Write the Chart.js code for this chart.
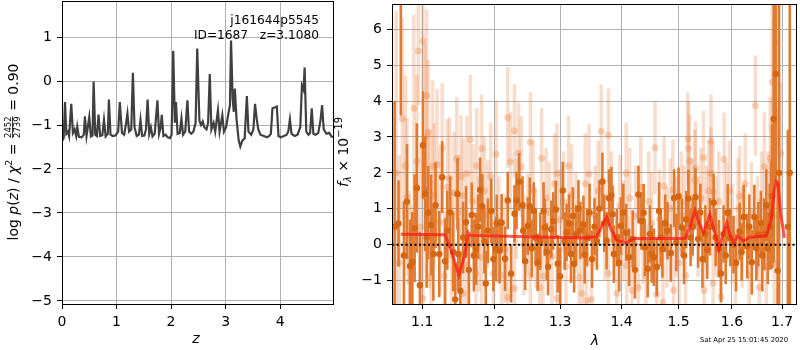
<!DOCTYPE html>
<html>
<head>
<meta charset="utf-8">
<script src="https://cdn.jsdelivr.net/npm/chart.js"></script>
<style>
html, body { margin: 0; padding: 0; background: #fff; }
#wrap { position: relative; width: 800px; height: 350px; overflow: hidden; }
.box { position: absolute; top: 0; height: 350px; }
#pzBox { left: 0; width: 340px; }
#specBox { left: 330px; width: 470px; }
</style>
</head>
<body>
<div id="wrap">
  <div class="box" id="pzBox"><canvas id="pzChart"></canvas></div>
  <div class="box" id="specBox"><canvas id="specChart"></canvas></div>
</div>
<script>
// ---- text ----
const objName = 'j161644p5545';
const idLine = 'ID=1687   z=3.1080';
const chi2Num = '2452';
const chi2Den = '2739';
const chi2Val = '0.90';
const stamp = 'Sat Apr 25 15:01:45 2020';

// ---- left panel: log p(z) ----
const pzXTicks = [0, 1, 2, 3, 4];
const pzYTicks = [-5, -4, -3, -2, -1, 0, 1];
const zGrid = [0.00, 0.03, 0.055, 0.08, 0.11, 0.13, 0.17, 0.20, 0.23, 0.26, 0.28, 0.31, 0.36, 0.40, 0.42, 0.45, 0.50, 0.53, 0.56, 0.58,
  0.61, 0.64, 0.67, 0.70, 0.74, 0.77, 0.80, 0.84, 0.86, 0.89, 0.93, 0.98, 1.03, 1.06, 1.10, 1.14, 1.17, 1.20, 1.23, 1.27,
  1.30, 1.33, 1.37, 1.41, 1.44, 1.47, 1.51, 1.54, 1.57, 1.60, 1.63, 1.66, 1.70, 1.75, 1.78, 1.81, 1.83, 1.86, 1.90, 1.94,
  1.98, 2.01, 2.04, 2.07, 2.09, 2.12, 2.16, 2.19, 2.22, 2.26, 2.30, 2.33, 2.37, 2.41, 2.45, 2.48, 2.52, 2.55, 2.58, 2.61,
  2.65, 2.68, 2.71, 2.74, 2.78, 2.81, 2.86, 2.89, 2.94, 2.97, 3.01, 3.05, 3.08, 3.10, 3.13, 3.15, 3.17, 3.20, 3.24, 3.27,
  3.31, 3.35, 3.39, 3.42, 3.47, 3.51, 3.54, 3.57, 3.60, 3.64, 3.70, 3.76, 3.80, 3.83, 3.86, 3.90, 3.94, 3.97, 4.01, 4.07,
  4.12, 4.15, 4.18, 4.21, 4.27, 4.32, 4.37, 4.40, 4.43, 4.45, 4.48, 4.52, 4.55, 4.58, 4.61, 4.65, 4.70, 4.74, 4.77, 4.80,
  4.85, 4.90, 4.94, 4.97];
const logPz = [-1.36, -1.30, -0.48, -1.20, -1.15, -1.25, -0.52, -1.18, -1.10, -1.25, -1.04, -1.27, -1.28, -1.22, -0.80, -1.25, -0.82, -1.26, -1.24, -0.01,
  -1.22, -1.25, -0.76, -1.25, -1.23, -0.88, -1.26, -1.20, -0.42, -1.22, -1.25, -1.24, -1.15, -0.48, -1.18, -1.22, -1.00, -0.74, -1.15, -1.10,
  0.19, -1.05, -1.25, -1.22, -0.88, -1.25, -1.24, -1.10, -0.42, -1.20, -1.05, -1.26, -1.20, -0.44, -1.20, -1.05, -0.77, -1.25, -1.22, -1.28,
  -1.30, -1.22, 0.69, -0.95, -0.48, -1.20, -1.18, -0.85, -1.22, -1.15, -0.44, -1.15, -1.20, -1.15, -0.95, 0.74, -0.90, -1.00, -0.92, -1.05,
  -1.10, -0.95, 0.16, -1.10, -0.95, -1.15, -0.66, -1.15, -0.78, -1.15, -1.05, -0.75, -0.55, 0.92, -0.40, -0.70, -0.17, -0.85, -1.35, -1.49,
  -1.35, -1.30, -0.34, -1.15, -1.22, -1.10, -0.52, -0.85, -1.10, -1.22, -1.25, -1.28, -1.25, -1.20, -0.62, -0.60, -0.58, -1.25, -1.28, -1.25,
  -1.22, -1.15, -0.87, -1.20, -1.25, -1.22, -1.05, -0.10, -0.20, 0.31, -1.15, -1.22, -1.18, -0.62, -1.20, -1.22, -1.18, -0.90, -0.55, -1.10,
  -1.20, -1.18, -1.26, -1.28];

// ---- right panel: spectrum ----
const specXTicks = [1.1, 1.2, 1.3, 1.4, 1.5, 1.6, 1.7];
const specYTicks = [-1, 0, 1, 2, 3, 4, 5, 6];

// binned points (dark)
const darkLam = [1.064, 1.069, 1.072, 1.076, 1.080, 1.084, 1.087, 1.090, 1.093, 1.097, 1.101, 1.104, 1.106, 1.108, 1.112, 1.115, 1.118, 1.123, 1.127, 1.131,
  1.134, 1.138, 1.142, 1.145, 1.148, 1.149, 1.152, 1.156, 1.160, 1.164, 1.168, 1.171, 1.174, 1.177, 1.180, 1.183, 1.186, 1.188, 1.191, 1.196,
  1.199, 1.203, 1.204, 1.208, 1.211, 1.216, 1.220, 1.225, 1.230, 1.233, 1.237, 1.242, 1.243, 1.246, 1.250, 1.253, 1.256, 1.259, 1.262, 1.265,
  1.269, 1.274, 1.276, 1.279, 1.281, 1.286, 1.289, 1.293, 1.296, 1.300, 1.304, 1.307, 1.310, 1.314, 1.317, 1.320, 1.322, 1.325, 1.329, 1.332,
  1.337, 1.339, 1.343, 1.347, 1.351, 1.355, 1.359, 1.363, 1.368, 1.371, 1.375, 1.379, 1.383, 1.385, 1.387, 1.392, 1.396, 1.399, 1.403, 1.408,
  1.413, 1.419, 1.423, 1.429, 1.434, 1.438, 1.440, 1.445, 1.449, 1.452, 1.456, 1.461, 1.465, 1.468, 1.471, 1.476, 1.480, 1.486, 1.492, 1.496,
  1.500, 1.506, 1.510, 1.514, 1.518, 1.522, 1.526, 1.531, 1.536, 1.540, 1.544, 1.549, 1.553, 1.558, 1.565, 1.569, 1.575, 1.579, 1.584, 1.588,
  1.592, 1.597, 1.603, 1.608, 1.615, 1.619, 1.623, 1.630, 1.634, 1.639, 1.644, 1.648, 1.652, 1.657, 1.660, 1.664, 1.668, 1.671, 1.675, 1.678,
  1.680, 1.683, 1.687, 1.691, 1.694, 1.712, 1.716];
const darkFlux = [0.5, 0.59, 8.0, -0.3, 1.2, -0.6, -0.49, 0.46, 1.58, -1.13, 2.77, 1.42, 0.2, 0.89, 0.55, -0.26, 1.1, -0.26, 1.88, -0.46,
  0.40, 0.9, -0.2, -1.52, 1.41, -0.26, -1.29, 0.2, 0.63, -0.7, 0.83, -0.3, -0.12, 0.5, 1.53, 1.07, 0.1, -1.08, 0.39, 0.94,
  -0.4, -0.12, 0.59, -0.17, 0.61, -0.39, 1.23, -0.81, 0.86, 1.23, 1.75, 1.10, 0.39, -0.46, 0.52, 1.07, -0.1, 0.94, 0.2, -0.49,
  0.1, 0.94, 0.48, -0.2, -0.61, 0.43, 0.66, 0.98, -0.53, -0.88, 1.51, 0.1, 0.34, 0.6, -0.26, 0.8, -0.53, 0.3, 1.0, 0.40,
  0.57, -0.28, 0.2, 0.9, -0.4, 0.5, 0.1, 1.0, 1.76, 0.6, 0.11, 1.3, 1.37, 0.85, -0.26, 0.2, -0.5, 0.52, 0.9, 0.34,
  -0.35, 0.16, -0.7, 1.40, 0.66, 0.89, -0.07, -0.67, 0.3, -0.26, -0.35, -0.62, 0.94, 0.2, -0.12, 0.6, 0.39, -0.23, 1.30, 0.06,
  1.35, 0.48, -0.3, 0.7, 1.29, 0.2, 0.5, 1.33, 0.16, 0.9, -0.4, 0.3, -0.15, 0.5, 1.17, 0.2, -0.11, -0.8, 0.3, -0.3,
  0.89, 0.2, 0.0, -0.5, 0.37, -0.2, 0.77, -0.04, 0.5, -0.49, 0.77, -0.1, 0.29, 0.6, -0.3, 0.29, 1.1, -0.10, 0.5, 0.82,
  1.35, 3.5, 4.75, -0.72, 2.0, 0.5, 2.0];
const darkErr = [3.5, 1.2, 4.4, 1.5, 1.6, 1.3, 1.4, 1.5, 1.8, 1.5, 1.5, 1.6, 1.4, 1.3, 1.4, 1.3, 1.2, 1.2, 1.0, 1.2,
  1.1, 1.0, 1.1, 1.0, 1.0, 1.0, 1.1, 1.0, 1.0, 1.0, 0.9, 1.0, 1.0, 0.9, 0.9, 0.9, 0.9, 0.9, 0.9, 0.9,
  0.9, 0.9, 0.8, 0.9, 0.8, 0.9, 0.8, 0.8, 0.8, 0.8, 0.8, 0.8, 0.8, 0.8, 0.8, 0.8, 0.8, 0.8, 0.8, 0.8,
  0.8, 0.8, 0.8, 0.8, 0.8, 0.8, 0.8, 0.8, 0.8, 0.8, 0.8, 0.8, 0.8, 0.8, 0.8, 0.8, 0.8, 0.8, 0.8, 0.8,
  0.8, 0.8, 0.8, 0.8, 0.8, 0.8, 0.8, 0.8, 0.8, 0.8, 0.8, 0.8, 0.8, 0.8, 0.8, 0.8, 0.8, 0.8, 0.8, 0.8,
  0.8, 0.8, 0.8, 0.8, 0.8, 0.8, 0.8, 0.8, 0.8, 0.8, 0.8, 0.8, 0.8, 0.8, 0.8, 0.8, 0.8, 0.8, 0.8, 0.8,
  0.8, 0.8, 0.8, 0.8, 0.8, 0.8, 0.8, 0.8, 0.8, 0.8, 0.8, 0.8, 0.8, 0.8, 0.8, 0.8, 0.8, 0.8, 0.8, 0.8,
  0.8, 0.8, 0.8, 0.8, 0.8, 0.8, 0.9, 0.9, 0.9, 0.9, 0.9, 0.9, 0.9, 0.9, 1.0, 1.0, 1.0, 1.0, 1.2, 1.5,
  2.0, 4.0, 3.0, 2.5, 6.0, 2.7, 10.0];

// individual exposures (light)
const lightLam = [1.066, 1.070, 1.074, 1.078, 1.080, 1.083, 1.086, 1.089, 1.093, 1.095, 1.098, 1.101, 1.101, 1.104, 1.106, 1.108, 1.110, 1.112, 1.114, 1.116,
  1.120, 1.124, 1.127, 1.130, 1.134, 1.137, 1.140, 1.143, 1.147, 1.150, 1.153, 1.156, 1.156, 1.161, 1.161, 1.166, 1.170, 1.174, 1.175, 1.178,
  1.182, 1.182, 1.186, 1.191, 1.195, 1.199, 1.203, 1.207, 1.211, 1.216, 1.220, 1.220, 1.224, 1.230, 1.230, 1.233, 1.236, 1.240, 1.244, 1.250,
  1.254, 1.254, 1.258, 1.262, 1.268, 1.271, 1.273, 1.278, 1.283, 1.287, 1.291, 1.295, 1.295, 1.300, 1.305, 1.309, 1.313, 1.318, 1.325, 1.330,
  1.335, 1.340, 1.342, 1.346, 1.350, 1.356, 1.361, 1.366, 1.372, 1.378, 1.378, 1.383, 1.392, 1.397, 1.403, 1.408, 1.409, 1.414, 1.418, 1.424,
  1.429, 1.433, 1.437, 1.442, 1.447, 1.452, 1.458, 1.461, 1.466, 1.472, 1.474, 1.479, 1.485, 1.490, 1.491, 1.496, 1.501, 1.505, 1.510, 1.513,
  1.517, 1.518, 1.520, 1.525, 1.530, 1.531, 1.536, 1.541, 1.546, 1.547, 1.552, 1.556, 1.560, 1.560, 1.564, 1.564, 1.570, 1.575, 1.579, 1.585,
  1.590, 1.596, 1.601, 1.607, 1.612, 1.615, 1.620, 1.626, 1.634, 1.638, 1.646, 1.650, 1.654, 1.659, 1.664, 1.668, 1.672, 1.676, 1.678, 1.680,
  1.683, 1.684, 1.688, 1.692, 1.697];
const lightFlux = [2.0, -0.5, 3.5, 2.20, 1.33, -1.0, -0.87, 3.8, 2.33, 5.39, 0.5, 5.67, -1.50, 3.0, 4.15, 3.14, 0.99, -0.90, 2.18, 1.38,
  2.23, 0.62, 2.7, -0.87, 1.6, 1.85, -0.3, 1.45, 2.4, 0.9, 1.9, 1.36, -1.36, 1.98, -0.56, 2.93, 1.2, -0.8, 2.2, 0.3,
  2.68, -0.35, 1.5, 0.85, 1.9, -0.8, 2.52, 0.4, -0.86, -0.12, 3.54, -1.47, 2.31, 3.17, -1.22, 1.0, 2.55, 2.17, 0.0, 0.57,
  2.85, -0.87, 1.5, 0.2, -1.2, 2.41, -0.87, 1.3, 0.9, -0.33, 1.7, 1.98, -1.5, 0.7, 1.2, -0.6, 2.20, 1.4, 0.6, -0.9,
  -1.36, 1.7, -1.55, 1.97, -1.52, 0.8, 1.5, 3.16, 0.4, 3.05, -0.8, 1.2, -1.36, 1.1, 0.4, 1.99, -0.58, 1.3, -1.27, 0.8,
  -1.19, 1.6, 0.3, -0.86, 1.2, 0.6, 2.70, -1.39, 0.7, -1.6, 1.63, 0.2, 1.0, 1.53, -1.27, 0.5, -0.5, 1.2, 0.8, -0.86,
  2.94, 2.68, 2.33, 1.0, 1.80, 2.13, 0.5, 1.3, 2.43, -1.27, 0.8, 1.5, 2.89, 1.98, 1.47, -1.07, 0.5, 1.2, -1.44, 2.38,
  0.9, 1.5, 0.3, -0.57, 1.0, 1.35, 0.2, 1.7, -0.84, 0.9, 3.87, 0.5, -1.19, 1.2, 2.18, -0.62, 1.0, 2.41, 1.42, 4.52,
  3.23, -0.52, 5.62, 0.8, 2.53];
const lightErr = [4.5, 3.0, 2.8, 2.5, 2.2, 2.5, 2.0, 2.6, 2.4, 1.5, 2.2, 1.4, 1.8, 2.6, 2.4, 2.0, 2.2, 2.0, 2.4, 2.0,
  2.1, 2.0, 1.8, 1.8, 1.9, 1.7, 1.8, 1.7, 1.7, 1.6, 1.7, 1.6, 1.6, 1.6, 1.6, 1.8, 1.6, 1.6, 1.6, 1.6,
  1.5, 1.5, 1.5, 1.5, 1.5, 1.5, 1.5, 1.5, 1.5, 1.5, 1.4, 1.5, 1.4, 1.3, 1.4, 1.4, 1.4, 1.4, 1.4, 1.4,
  1.4, 1.4, 1.4, 1.4, 1.4, 1.4, 1.4, 1.4, 1.4, 1.4, 1.4, 1.4, 1.4, 1.4, 1.4, 1.4, 1.4, 1.4, 1.4, 1.4,
  1.4, 1.4, 1.4, 1.4, 1.4, 1.4, 1.4, 1.3, 1.4, 1.3, 1.4, 1.4, 1.4, 1.4, 1.4, 1.4, 1.4, 1.4, 1.4, 1.4,
  1.4, 1.4, 1.4, 1.4, 1.4, 1.4, 1.3, 1.4, 1.4, 1.4, 1.4, 1.4, 1.4, 1.4, 1.4, 1.4, 1.4, 1.4, 1.4, 1.4,
  1.3, 1.3, 1.3, 1.4, 1.4, 1.3, 1.4, 1.4, 1.3, 1.4, 1.4, 1.4, 1.3, 1.3, 1.4, 1.4, 1.4, 1.4, 1.4, 1.3,
  1.4, 1.4, 1.4, 1.4, 1.4, 1.4, 1.4, 1.4, 1.4, 1.4, 1.4, 1.4, 1.4, 1.4, 1.5, 1.5, 1.6, 1.7, 2.0, 2.5,
  3.0, 2.5, 3.0, 3.0, 2.0];

// best-fit model
const modelLam = [1.072, 1.131, 1.140, 1.150, 1.158, 1.163, 1.166, 1.250, 1.340, 1.358, 1.368, 1.375, 1.382, 1.392, 1.409, 1.420, 1.512, 1.521, 1.530, 1.538,
  1.546, 1.558, 1.567, 1.575, 1.583, 1.590, 1.597, 1.603, 1.612, 1.623, 1.635, 1.668, 1.678, 1.684, 1.688, 1.692, 1.697, 1.705];
const modelFlux = [0.29, 0.28, -0.2, -0.85, -0.3, 0.34, 0.26, 0.22, 0.19, 0.22, 0.55, 0.78, 0.45, 0.12, 0.05, 0.17, 0.17, 0.5, 0.95, 0.6,
  0.34, 0.84, 0.35, -0.12, 0.3, 0.61, 0.25, 0.06, 0.24, 0.10, 0.21, 0.24, 0.71, 1.5, 1.76, 1.7, 0.9, 0.19];

const zeroLam = [1.0606, 1.729];
const zeroFlux = [0, 0];

Chart.defaults.font.family = '"DejaVu Sans", sans-serif';
Chart.defaults.font.size = 14;
Chart.defaults.color = '#000';

const toPts = (xs, ys) => xs.map((x, i) => ({ x: x, y: ys[i] }));
const minus = v => String(v).replace('-', '\u2212');

// fixed axis box so the plot area lands where it should
function fixAxis(size) {
  return s => {
    if (s.isHorizontal()) s.height = size; else s.width = size;
    s.paddingTop = 0; s.paddingBottom = 0; s.paddingLeft = 0; s.paddingRight = 0;
  };
}

function axis(opts) {
  return Object.assign({
    grid: { color: '#b0b0b0', lineWidth: 1, tickColor: '#000', tickLength: 5 },
    border: { display: true, color: '#000', width: 1 },
    ticks: { padding: 5, autoSkip: false, maxRotation: 0, callback: minus, font: { size: 14 } }
  }, opts);
}

// black box around the plot area
const frame = {
  id: 'frame',
  afterDraw(chart) {
    const { ctx, chartArea: a } = chart;
    ctx.save();
    ctx.strokeStyle = '#000';
    ctx.lineWidth = 1;
    ctx.strokeRect(Math.round(a.left) + 0.5, Math.round(a.top) + 0.5, Math.round(a.right - a.left), Math.round(a.bottom - a.top));
    ctx.restore();
  }
};

// vertical error bars, drawn just before the markers of the same dataset
const errorBars = {
  id: 'errorBars',
  beforeDatasetDraw(chart, args) {
    const ds = chart.data.datasets[args.index];
    if (!ds.errors) return;
    const { ctx, chartArea: a, scales } = chart;
    ctx.save();
    ctx.beginPath();
    ctx.rect(a.left, a.top, a.right - a.left, a.bottom - a.top);
    ctx.clip();
    ctx.strokeStyle = ds.barColor;
    ctx.lineWidth = ds.barWidth;
    ds.data.forEach((p, i) => {
      const px = scales.x.getPixelForValue(p.x);
      ctx.beginPath();
      ctx.moveTo(px, scales.y.getPixelForValue(p.y - ds.errors[i]));
      ctx.lineTo(px, scales.y.getPixelForValue(p.y + ds.errors[i]));
      ctx.stroke();
    });
    ctx.restore();
  }
};

// text made of runs: {text, font, dy} or {frac: [num, den], font}
function drawRuns(c, runs, y0) {
  let w = 0;
  runs.forEach(r => {
    c.font = r.font;
    r.w = r.frac ? Math.max(c.measureText(r.frac[0]).width, c.measureText(r.frac[1]).width) + 2 : c.measureText(r.text).width;
    w += r.w;
  });
  let x = -w / 2;
  c.textBaseline = 'alphabetic';
  runs.forEach(r => {
    c.font = r.font;
    if (r.frac) {
      c.textAlign = 'center';
      c.fillText(r.frac[0], x + r.w / 2, y0 - 7);
      c.fillText(r.frac[1], x + r.w / 2, y0 + 2);
      c.fillRect(x + 1, y0 - 5.8, r.w - 2, 0.8);
      c.textAlign = 'left';
    } else {
      c.textAlign = 'left';
      c.fillText(r.text, x, y0 + (r.dy || 0));
    }
    x += r.w;
  });
}

const F = '"DejaVu Sans"';
const pzText = {
  id: 'pzText',
  afterDraw(chart) {
    const c = chart.ctx;
    c.save();
    c.fillStyle = '#000';
    c.font = '12.2px ' + F;
    c.textAlign = 'right';
    c.fillText(objName, 319, 23.5);
    c.fillText(idLine, 319, 38.5);
    c.font = 'italic 14px ' + F;
    c.textAlign = 'center';
    c.fillText('z', 196, 343);
    c.translate(18, 152);
    c.rotate(-Math.PI / 2);
    drawRuns(c, [
      { text: 'log ', font: '14px ' + F },
      { text: 'p', font: 'italic 14px ' + F },
      { text: '(', font: '14px ' + F },
      { text: 'z', font: 'italic 14px ' + F },
      { text: ') / ', font: '14px ' + F },
      { text: '\u03c7', font: 'italic 14px ' + F },
      { text: '2', font: '9.5px ' + F, dy: -6 },
      { text: ' = ', font: '14px ' + F },
      { frac: [chi2Num, chi2Den], font: '8.5px ' + F },
      { text: ' = ' + chi2Val, font: '14px ' + F }
    ], 0);
    c.restore();
  }
};

const specText = {
  id: 'specText',
  afterDraw(chart) {
    const c = chart.ctx;
    c.save();
    c.fillStyle = '#000';
    c.font = 'italic 14px ' + F;
    c.textAlign = 'center';
    c.fillText('\u03bb', 265, 345);
    c.font = '6.8px ' + F;
    c.textAlign = 'right';
    c.fillText(stamp, 458, 342);
    c.translate(18, 152);
    c.rotate(-Math.PI / 2);
    drawRuns(c, [
      { text: 'f', font: 'italic 14px ' + F },
      { text: '\u03bb', font: 'italic 9.8px ' + F, dy: 3 },
      { text: ' \u00d7 10', font: '14px ' + F },
      { text: '\u221219', font: '9.8px ' + F, dy: -6 }
    ], 0);
    c.restore();
  }
};

new Chart(document.getElementById('pzChart'), {
  type: 'scatter',
  data: {
    datasets: [{
      data: toPts(zGrid, logPz),
      showLine: true,
      borderColor: '#404040',
      borderWidth: 2.2,
      pointRadius: 0
    }]
  },
  options: {
    animation: false,
    responsive: true,
    maintainAspectRatio: false,
    layout: { padding: { top: 1, right: 7, left: 0, bottom: 0 } },
    plugins: { legend: { display: false }, tooltip: { enabled: false } },
    scales: {
      x: axis({ type: 'linear', min: 0, max: 4.97, afterBuildTicks: s => { s.ticks = pzXTicks.map(v => ({ value: v })); }, afterFit: fixAxis(46) }),
      y: axis({ type: 'linear', min: -5.07, max: 1.82, afterBuildTicks: s => { s.ticks = pzYTicks.map(v => ({ value: v })); }, afterFit: fixAxis(62) })
    }
  },
  plugins: [frame, pzText]
});

new Chart(document.getElementById('specChart'), {
  type: 'scatter',
  data: {
    datasets: [
      {
        data: toPts(lightLam, lightFlux),
        errors: lightErr,
        barColor: 'rgba(230,120,50,0.25)',
        barWidth: 3.5,
        backgroundColor: 'rgba(230,120,50,0.3)',
        borderWidth: 0,
        pointRadius: 3.5,
        order: 4
      },
      {
        data: toPts(darkLam, darkFlux),
        errors: darkErr,
        barColor: 'rgb(223,122,48)',
        barWidth: 2.6,
        backgroundColor: 'rgb(213,102,18)',
        borderWidth: 0,
        pointRadius: 3.2,
        order: 3
      },
      {
        data: toPts(modelLam, modelFlux),
        showLine: true,
        borderColor: 'rgba(255,20,20,0.7)',
        borderWidth: 3,
        pointRadius: 0,
        order: 2
      },
      {
        data: toPts(zeroLam, zeroFlux),
        showLine: true,
        borderColor: '#000',
        borderWidth: 2,
        borderDash: [2, 2.5],
        pointRadius: 0,
        order: 1
      }
    ]
  },
  options: {
    animation: false,
    responsive: true,
    maintainAspectRatio: false,
    layout: { padding: { top: 1, right: 2, left: 0, bottom: 0 } },
    plugins: { legend: { display: false }, tooltip: { enabled: false } },
    scales: {
      x: axis({
        type: 'logarithmic', min: 1.0606, max: 1.729, bounds: 'data',
        afterBuildTicks: s => { s.ticks = specXTicks.map(v => ({ value: v })); },
        afterFit: fixAxis(46),
        ticks: { padding: 5, autoSkip: false, maxRotation: 0, font: { size: 14 }, callback: v => Number(v).toFixed(1) }
      }),
      y: axis({ type: 'linear', min: -1.65, max: 6.7, afterBuildTicks: s => { s.ticks = specYTicks.map(v => ({ value: v })); }, afterFit: fixAxis(62) })
    }
  },
  plugins: [frame, errorBars, specText]
});
</script>
</body>
</html>
